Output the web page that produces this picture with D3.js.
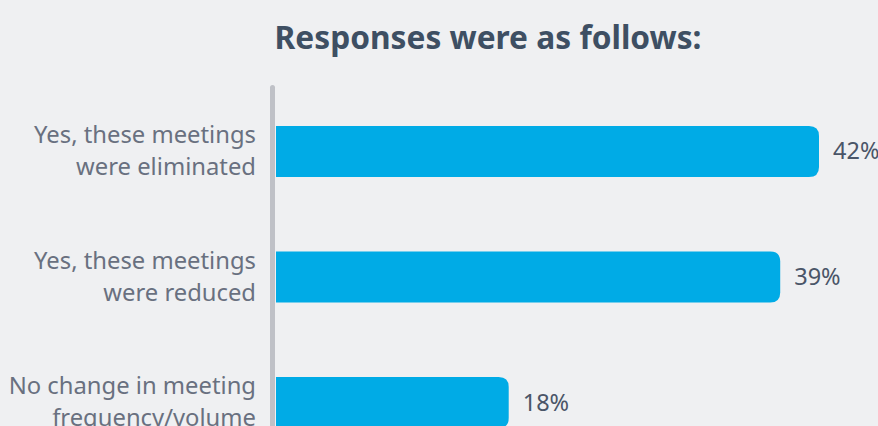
<!DOCTYPE html>
<html>
<head>
<meta charset="utf-8">
<script src="https://cdn.jsdelivr.net/npm/d3@7"></script>
<style>
  html, body { margin: 0; padding: 0; background: #eff0f2; overflow: hidden; }
  svg { display: block; font-family: 'Noto Sans', 'Open Sans', sans-serif; }
</style>
</head>
<body>
<svg id="chart" width="878" height="426"></svg>
<script>
const categories = [
  ['Yes, these meetings', 'were eliminated'],
  ['Yes, these meetings', 'were reduced'],
  ['No change in meeting', 'frequency/volume']
];
const values = [42, 39, 18];
const valueLabels = ['42%', '39%', '18%'];

const svg = d3.select('#chart');

// title
svg.append('text').attr('x', 488).attr('y', 49).attr('text-anchor', 'middle')
  .style('font-size', '31.7px').style('font-weight', 700).style('fill', '#3e4f63')
  .text('Responses were as follows:');

const x = d3.scaleLinear().domain([0, 42]).range([276, 819]);
const y = d3.scaleBand().domain(d3.range(categories.length)).range([126, 428]).paddingInner(0.594).paddingOuter(0);

// axis line
svg.append('rect').attr('x', 270).attr('y', 85).attr('width', 5).attr('height', 400)
  .attr('rx', 2.5).attr('fill', '#bfc1c7');

const barH = y.bandwidth();
const r = 10;
function barPath(x0, x1, y0, h) {
  const rr = Math.min(r, (x1 - x0));
  return `M${x0},${y0} H${x1 - rr} Q${x1},${y0} ${x1},${y0 + rr} V${y0 + h - rr} Q${x1},${y0 + h} ${x1 - rr},${y0 + h} H${x0} Z`;
}

const g = svg.append('g');
g.selectAll('path.bar').data(values).enter().append('path').attr('class', 'bar')
  .attr('d', (d, i) => barPath(x(0), x(d), y(i), barH))
  .attr('fill', '#00abe6');

g.selectAll('text.val').data(values).enter().append('text').attr('class', 'val')
  .attr('x', d => x(d) + 14).attr('y', (d, i) => y(i) + barH / 2 + 8)
  .style('font-size', '23.5px').style('fill', '#4a5568')
  .text((d, i) => valueLabels[i]);

const labels = g.selectAll('text.cat').data(categories).enter().append('text').attr('class', 'cat')
  .attr('text-anchor', 'end').style('font-size', '23.8px').style('fill', '#697080');
labels.each(function(d, i) {
  const t = d3.select(this);
  const cy = y(i) + barH / 2;
  d.forEach((line, j) => {
    t.append('tspan').attr('x', 256).attr('y', cy - 8.5 + j * 32).text(line);
  });
});
</script>
</body>
</html>
